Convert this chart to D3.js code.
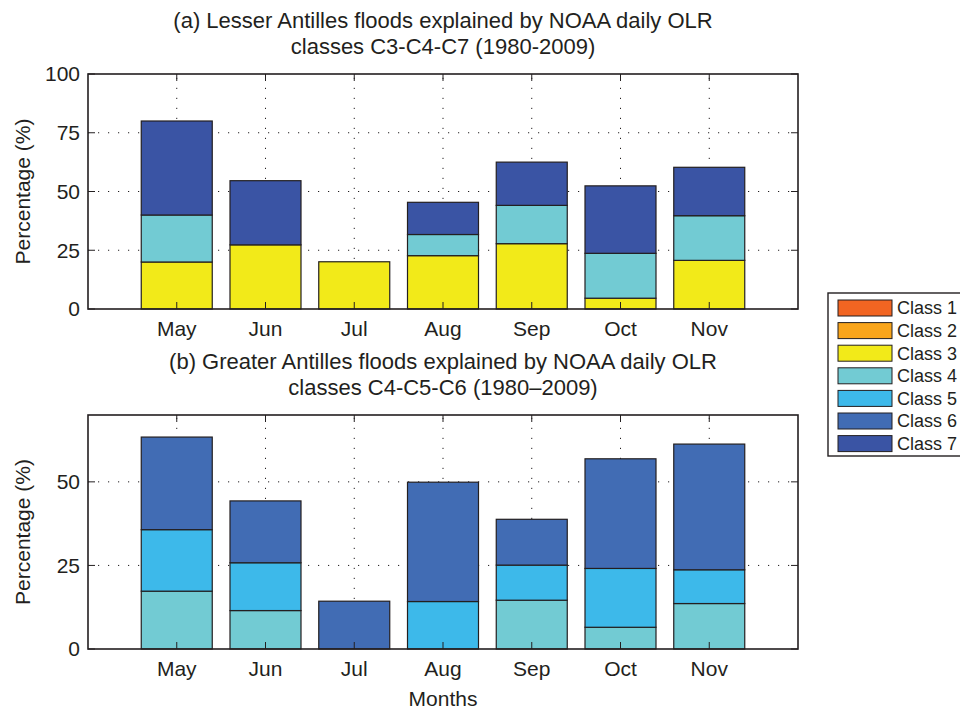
<!DOCTYPE html>
<html>
<head>
<meta charset="utf-8">
<script src="https://cdn.jsdelivr.net/npm/d3@7"></script>
<style>
  body { margin: 0; background: #fff; }
  text { font-family: "Liberation Sans", Arial, Helvetica, sans-serif; fill: #231f20; }
</style>
</head>
<body>
<div id="graph"></div>
<script>
// months on the x axis
const months = ["May", "Jun", "Jul", "Aug", "Sep", "Oct", "Nov"];

// legend classes and their colours
const classNames = ["Class 1", "Class 2", "Class 3", "Class 4", "Class 5", "Class 6", "Class 7"];
const classColors = ["#f26522", "#f9a51b", "#f2ea19", "#72cbd3", "#3db9ea", "#416cb4", "#3a54a4"];

// (a) Lesser Antilles, percentages per class (stacked)
const lesserC3 = [20.0, 27.3, 20.1, 22.7, 27.8, 4.6, 20.7];
const lesserC4 = [20.0, 0, 0, 9.0, 16.3, 19.1, 19.0];
const lesserC7 = [40.0, 27.3, 0, 13.7, 18.4, 28.7, 20.6];

// (b) Greater Antilles, percentages per class (stacked)
const greaterC4 = [17.3, 11.5, 0, 0, 14.6, 6.5, 13.6];
const greaterC5 = [18.4, 14.3, 0, 14.2, 10.5, 17.6, 10.1];
const greaterC6 = [27.7, 18.5, 14.3, 35.7, 13.7, 32.8, 37.6];

// y ticks
const ticksA = [0, 25, 50, 75, 100];
const ticksB = [0, 25, 50];

const width = 960, height = 711;
const svg = d3.select("#graph").append("svg")
  .attr("width", width).attr("height", height)
  .style("display", "block");

const fs = 21;   // tick and axis labels
const fsTitle = 22;

function panel(opts) {
  const { top, bottom, ymax, yticks, series, title } = opts;
  const x = d3.scaleLinear().domain([0, 8]).range([88, 798]);
  const y = d3.scaleLinear().domain([0, ymax]).range([bottom, top]);
  const g = svg.append("g");

  // dotted grid
  g.selectAll(".hgrid").data(yticks.filter(t => t > 0 && t < ymax)).enter()
    .append("line")
    .attr("x1", x(0)).attr("x2", x(8))
    .attr("y1", d => y(d)).attr("y2", d => y(d))
    .attr("stroke", "#231f20").attr("stroke-width", 1)
    .attr("stroke-dasharray", "1.2,8.8");
  g.selectAll(".vgrid").data(d3.range(1, 8)).enter()
    .append("line")
    .attr("x1", d => x(d)).attr("x2", d => x(d))
    .attr("y1", y(0)).attr("y2", y(ymax))
    .attr("stroke", "#231f20").attr("stroke-width", 1)
    .attr("stroke-dasharray", "1.2,8.8");

  // stacked bars
  const rows = months.map((m, i) => {
    const r = { month: m, i: i };
    series.forEach(s => r[s.cls] = s.values[i]);
    return r;
  });
  const stack = d3.stack().keys(series.map(s => s.cls));
  const layers = stack(rows);
  layers.forEach(layer => {
    const cls = layer.key;
    g.selectAll(null).data(layer.filter(d => d[1] - d[0] > 0)).enter()
      .append("rect")
      .attr("x", d => x(d.data.i + 1 - 0.4))
      .attr("width", x(0.8) - x(0))
      .attr("y", d => y(d[1]))
      .attr("height", d => y(d[0]) - y(d[1]))
      .attr("fill", classColors[cls - 1])
      .attr("stroke", "#231f20").attr("stroke-width", 1.2);
  });

  // ticks inward on all four sides
  const tl = 7;
  d3.range(1, 8).forEach(d => {
    g.append("line").attr("x1", x(d)).attr("x2", x(d))
      .attr("y1", y(0)).attr("y2", y(0) - tl).attr("stroke", "#231f20");
    g.append("line").attr("x1", x(d)).attr("x2", x(d))
      .attr("y1", y(ymax)).attr("y2", y(ymax) + tl).attr("stroke", "#231f20");
  });
  yticks.forEach(t => {
    g.append("line").attr("x1", x(0)).attr("x2", x(0) + tl)
      .attr("y1", y(t)).attr("y2", y(t)).attr("stroke", "#231f20");
    g.append("line").attr("x1", x(8)).attr("x2", x(8) - tl)
      .attr("y1", y(t)).attr("y2", y(t)).attr("stroke", "#231f20");
  });

  // axes box
  g.append("rect")
    .attr("x", x(0)).attr("y", y(ymax))
    .attr("width", x(8) - x(0)).attr("height", y(0) - y(ymax))
    .attr("fill", "none").attr("stroke", "#231f20").attr("stroke-width", 1.6);

  // tick labels
  g.selectAll(".ylab").data(yticks).enter().append("text")
    .attr("x", x(0) - 8).attr("y", d => y(d))
    .attr("dy", "0.35em").attr("text-anchor", "end")
    .style("font-size", fs + "px")
    .text(d => d);
  g.selectAll(".xlab").data(months).enter().append("text")
    .attr("x", (d, i) => x(i + 1)).attr("y", y(0) + 27)
    .attr("text-anchor", "middle")
    .style("font-size", fs + "px")
    .text(d => d);

  // y label
  g.append("text")
    .attr("transform", "translate(30," + (top + bottom) / 2 + ") rotate(-90)")
    .attr("text-anchor", "middle")
    .style("font-size", fs + "px")
    .text("Percentage (%)");

  // title (two lines)
  title.forEach((t, k) => {
    g.append("text")
      .attr("x", (x(0) + x(8)) / 2).attr("y", top - 46 + k * 26)
      .attr("text-anchor", "middle")
      .style("font-size", fsTitle + "px")
      .text(t);
  });
  return { x, y };
}

panel({
  top: 74, bottom: 309, ymax: 100, yticks: ticksA,
  series: [
    { cls: 3, values: lesserC3 },
    { cls: 4, values: lesserC4 },
    { cls: 7, values: lesserC7 }
  ],
  title: ["(a) Lesser Antilles floods explained by NOAA daily OLR", "classes C3-C4-C7 (1980-2009)"]
});

const pb = panel({
  top: 415, bottom: 649, ymax: 70, yticks: ticksB,
  series: [
    { cls: 4, values: greaterC4 },
    { cls: 5, values: greaterC5 },
    { cls: 6, values: greaterC6 }
  ],
  title: ["(b) Greater Antilles floods explained by NOAA daily OLR", "classes C4-C5-C6 (1980\u20132009)"]
});

// x axis label
svg.append("text")
  .attr("x", (pb.x(0) + pb.x(8)) / 2).attr("y", 706)
  .attr("text-anchor", "middle")
  .style("font-size", fs + "px")
  .text("Months");

// legend
const lg = svg.append("g").attr("transform", "translate(828,293)");
lg.append("rect").attr("x", 0).attr("y", 0).attr("width", 140).attr("height", 163)
  .attr("fill", "#fff").attr("stroke", "#231f20").attr("stroke-width", 1.4);
const items = lg.selectAll(".item").data(classNames).enter().append("g")
  .attr("transform", (d, i) => "translate(10," + (7 + i * 22.6) + ")");
items.append("rect").attr("width", 54).attr("height", 16)
  .attr("fill", (d, i) => classColors[i])
  .attr("stroke", "#231f20").attr("stroke-width", 1);
items.append("text").attr("x", 59).attr("y", 8).attr("dy", "0.35em")
  .style("font-size", "18px")
  .text(d => d);
</script>
</body>
</html>
